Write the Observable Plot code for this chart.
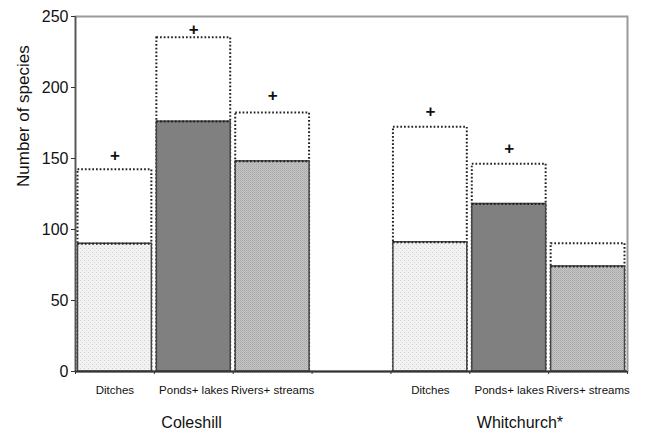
<!DOCTYPE html>
<html>
<head>
<meta charset="utf-8">
<script src="https://cdn.jsdelivr.net/npm/d3@7"></script>
<script src="https://cdn.jsdelivr.net/npm/@observablehq/plot@0.6"></script>
<style>
  html, body { margin: 0; padding: 0; background: white; }
</style>
</head>
<body>
<svg width="0" height="0" style="position:absolute">
  <defs>
    <pattern id="patDitches" width="4" height="4" patternUnits="userSpaceOnUse">
      <rect width="4" height="4" fill="#f2f2f2"></rect>
      <rect x="0" y="0" width="1" height="1" fill="#cfcfcf"></rect>
      <rect x="2" y="2" width="1" height="1" fill="#d8d8d8"></rect>
    </pattern>
    <pattern id="patPonds" width="2" height="2" patternUnits="userSpaceOnUse">
      <rect width="2" height="2" fill="#808080"></rect>
    </pattern>
    <pattern id="patRivers" width="2" height="2" patternUnits="userSpaceOnUse">
      <rect width="2" height="2" fill="#c4c4c4"></rect>
      <rect x="0" y="0" width="1" height="1" fill="#a9a9a9"></rect>
      <rect x="1" y="1" width="1" height="1" fill="#b4b4b4"></rect>
    </pattern>
  </defs>
</svg>
<div id="chart"></div>
<script>
// ---- data ----
const sites = ["Coleshill", "Whitchurch*"];
const categories = ["Ditches", "Ponds+ lakes", "Rivers+ streams"];
const fills = ["url(#patDitches)", "url(#patPonds)", "url(#patRivers)"];
// solid bars (recorded species)
const recorded = [
  [90, 176, 148],
  [91, 118, 74]
];
// dotted outlines (estimated total)
const estimated = [
  [142, 235, 182],
  [172, 146, 90]
];
// "+" markers
const plusValues = [
  [152, 241, 194],
  [183, 157, null]
];
const yTicks = [0, 50, 100, 150, 200, 250];

// slot layout: 3 categories, 1 empty slot, 3 categories
const rows = [];
sites.forEach((site, s) => {
  categories.forEach((cat, c) => {
    rows.push({
      site, cat,
      slot: s * 4 + c,
      recorded: recorded[s][c],
      estimated: estimated[s][c],
      plus: plusValues[s][c],
      fill: fills[c]
    });
  });
});
const siteRows = sites.map((site, s) => ({site, slot: s * 4 + 1}));

const dotted = {stroke: "#222", strokeWidth: 2, strokeDasharray: "1.7,2"};

const chart = Plot.plot({
  width: 651,
  height: 433,
  marginLeft: 75,
  marginRight: 24,
  marginTop: 16,
  marginBottom: 62,
  style: {fontFamily: "Liberation Sans, Arial, sans-serif", background: "white", color: "#111"},
  x: {type: "linear", domain: [0, 7], axis: null},
  y: {domain: [0, 250], axis: null},
  marks: [
    Plot.frame({stroke: "#9a9a9a", strokeWidth: 2}),
    // dotted estimated outline
    Plot.rectY(rows, {
      x1: d => d.slot, x2: d => d.slot + 1, y1: 0, y2: "estimated",
      insetLeft: 2.5, insetRight: 2.5,
      fill: "white", ...dotted
    }),
    // solid recorded bars
    Plot.rectY(rows, {
      x1: d => d.slot, x2: d => d.slot + 1, y1: 0, y2: "recorded",
      insetLeft: 2.5, insetRight: 2.5,
      fill: d => d.fill, stroke: "#444", strokeWidth: 1.5
    }),
    // dotted top edge over solid bar
    Plot.ruleY(rows, {
      x1: d => d.slot, x2: d => d.slot + 1, y: "recorded",
      insetLeft: 2.5, insetRight: 2.5,
      ...dotted
    }),
    // plus markers
    Plot.text(rows.filter(d => d.plus != null), {
      x: d => d.slot + 0.5, y: "plus", text: () => "+",
      fontSize: 17, fontWeight: "bold", fill: "#111"
    }),
    // axes lines
    Plot.ruleX([0], {stroke: "#555", strokeWidth: 1.5}),
    Plot.ruleY([0], {stroke: "#333", strokeWidth: 2}),
    Plot.axisY({ticks: yTicks, tickSize: 4, tickPadding: 3, fontSize: 16, label: null, stroke: "#333"}),
    Plot.axisX({ticks: d3.range(8), tickSize: 3, tickFormat: () => "", label: null, stroke: "#333"}),
    // category labels
    Plot.text(rows, {
      x: d => d.slot + 0.5, y: 0, text: "cat", dy: 19, fontSize: 11.5, fill: "#111"
    }),
    // site labels
    Plot.text(siteRows, {
      x: "slot", y: 0, text: "site", textAnchor: "start", dx: 7, dy: 51, fontSize: 16, fill: "#111"
    }),
    // y axis title
    Plot.text(["Number of species"], {
      frameAnchor: "left", rotate: -90, dx: -52, dy: -7, fontSize: 17, fill: "#111"
    })
  ]
});
document.getElementById("chart").appendChild(chart);
</script>
</body>
</html>
